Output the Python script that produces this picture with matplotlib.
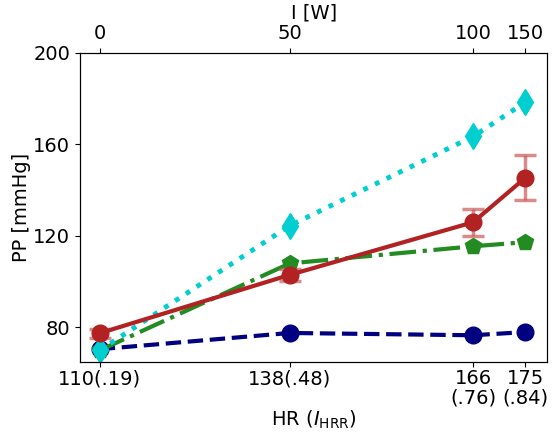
import numpy as np
import matplotlib.pyplot as plt

# x positions follow I_HRR
hrr = [0.19, 0.48, 0.76, 0.84]
hr_labels = ['110(.19)', '138(.48)', '166\n(.76)', '175\n(.84)']
watt_labels = ['0', '50', '100', '150']

pp_red = [77.5, 103, 126, 145.5]
pp_red_err = [2, 2.5, 6, 9.7]
pp_cyan = [70, 124.5, 163.5, 178.5]
pp_green = [70, 108, 115.5, 117.3]
pp_navy = [70.5, 77.6, 76.6, 78]

fig = plt.figure(figsize=(5.56, 4.38), dpi=100)
ax = fig.add_axes([0.144, 0.174, 0.84, 0.705])

ax.plot(hrr, pp_navy, color='navy', linestyle='--', linewidth=3, marker='o', markersize=12)
ax.plot(hrr, pp_green, color='forestgreen', linestyle='-.', linewidth=3, marker='p', markersize=12)
ax.plot(hrr, pp_cyan, color='darkturquoise', linestyle=':', linewidth=3.5, marker='d', markersize=13)
ax.errorbar(hrr, pp_red, yerr=pp_red_err, color='firebrick', linewidth=3, marker='o', markersize=12,
            ecolor=(0.8, 0.35, 0.35, 0.7), elinewidth=2.5, capsize=8, capthick=2.5)

ax.set_xlim(0.16, 0.873)
ax.set_ylim(65, 200)
ax.set_yticks([80, 120, 160, 200])
ax.set_xticks(hrr)
ax.set_xticklabels(hr_labels, linespacing=1.0)
ax.tick_params(labelsize=14)
ax.tick_params(axis='x', pad=2)
ax.set_xlabel(r'HR ($I_{\mathrm{HRR}}$)', fontsize=14, labelpad=1)
ax.set_ylabel('PP [mmHg]', fontsize=14, labelpad=2)

ax2 = ax.twiny()
ax2.set_xlim(ax.get_xlim())
ax2.set_xticks(hrr)
ax2.set_xticklabels(watt_labels)
ax2.tick_params(labelsize=14)
ax2.set_xlabel('I [W]', fontsize=14)

fig.savefig('out.png', dpi=100)
